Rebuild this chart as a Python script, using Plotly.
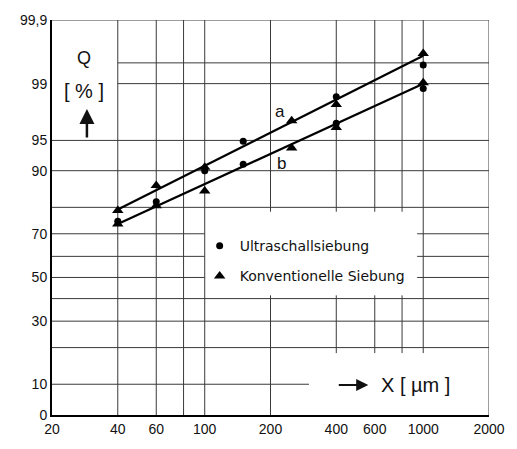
import plotly.graph_objects as go
from statistics import NormalDist

_nd = NormalDist()


def z(p):
    return _nd.inv_cdf(p / 100.0)


# ---------------- data ----------------
ultra_x = [40, 60, 100, 150, 150, 400, 400, 1000, 1000]
ultra_q = [75.0, 81.8, 90.0, 94.9, 91.3, 98.5, 96.8, 99.46, 98.83]

konv_x = [40, 40, 60, 60, 100, 100, 250, 250, 400, 400, 1000, 1000]
konv_q = [78.9, 73.9, 86.5, 80.5, 90.7, 85.0, 97.0, 94.0, 98.1, 96.4, 99.64, 99.03]

line_a_x = [40, 1000]
line_a_q = [79.3, 99.61]
line_b_x = [40, 1000]
line_b_q = [73.9, 99.0]

x_tick_vals = [20, 40, 60, 100, 200, 400, 600, 1000, 2000]
x_tick_text = ["20", "40", "60", "100", "200", "400", "600", "1000", "2000"]
y_tick_pct = [4.94, 10, 30, 50, 70, 90, 95, 99, 99.9]
y_tick_text = ["0", "10", "30", "50", "70", "90", "95", "99", "99,9"]

X_MIN, X_MAX = 20, 2000
Q_MIN, Q_MAX = 4.94, 99.9

# grid layout of the printed paper: (value, start, end)
v_grid = [
    (40, Q_MIN, Q_MAX), (60, Q_MIN, Q_MAX), (80, Q_MIN, Q_MAX), (100, Q_MIN, Q_MAX),
    (200, Q_MIN, 41.5), (200, 78.5, Q_MAX),
    (400, 18.2, 41.5), (400, 78.5, Q_MAX),
    (600, 18.2, 41.5), (600, 78.5, Q_MAX),
    (800, 18.2, 41.5), (800, 78.5, Q_MAX),
    (1000, 18.2, Q_MAX),
    (2000, Q_MIN, Q_MAX),
]
h_grid = [
    (99.9, X_MIN, X_MAX), (99.5, 40, X_MAX), (99, 40, X_MAX),
    (95, X_MIN, X_MAX), (90, X_MIN, X_MAX), (80, X_MIN, X_MAX),
    (70, X_MIN, 100), (70, 938, X_MAX),
    (60, X_MIN, 100), (60, 938, X_MAX),
    (50, X_MIN, 100), (50, 938, X_MAX),
    (40, X_MIN, X_MAX), (30, X_MIN, X_MAX), (20, X_MIN, X_MAX),
    (10, X_MIN, 300),
]

gx, gy = [], []
for v, a, b in v_grid:
    gx += [v, v, None]
    gy += [z(a), z(b), None]
for v, a, b in h_grid:
    gx += [a, b, None]
    gy += [z(v), z(v), None]

fig = go.Figure()
fig.add_trace(go.Scatter(x=gx, y=gy, mode="lines", line=dict(color="#3a3a3a", width=1),
                         hoverinfo="skip", showlegend=False))

for lx, lq in ((line_a_x, line_a_q), (line_b_x, line_b_q)):
    fig.add_trace(go.Scatter(x=lx, y=[z(q) for q in lq], mode="lines",
                             line=dict(color="black", width=2.2), showlegend=False))

fig.add_trace(go.Scatter(x=ultra_x, y=[z(q) for q in ultra_q], mode="markers",
                         name="Ultraschallsiebung", legendgroup="u",
                         marker=dict(symbol="circle", size=7, color="black")))
fig.add_trace(go.Scatter(x=konv_x, y=[z(q) for q in konv_q], mode="markers",
                         name="Konventionelle Siebung", legendgroup="k",
                         marker=dict(symbol="triangle-up", size=10, color="black")))

L, R, T, B = 52, 27, 18, 23
W, H = 517, 449
pw, ph = W - L - R, H - T - B


def px(xp):
    return (xp - L) / pw


def py(yp):
    return (H - B - yp) / ph


font_main = "Liberation Sans, Arial, sans-serif"
ann = [
    dict(text="Q", x=px(84), y=py(57), size=18),
    dict(text="[ % ]", x=px(84), y=py(91), size=20),
    dict(text="a", x=px(281), y=py(112), size=17),
    dict(text="b", x=px(282), y=py(166), size=17),
    dict(text="X [ µm ]", x=px(416), y=py(395), size=20),
]
annotations = []
for a in ann:
    annotations.append(dict(text=a["text"], x=a["x"], y=a["y"], xref="paper", yref="paper",
                            showarrow=False, xanchor="center", yanchor="middle",
                            font=dict(family=font_main, size=a["size"], color="#111")))
# arrows
annotations.append(dict(text="", x=px(87), y=py(110), xref="paper", yref="paper",
                        ax=0, ay=30, showarrow=True, arrowhead=2, arrowsize=1.2,
                        arrowwidth=2.5, arrowcolor="#111"))
annotations.append(dict(text="", x=px(369), y=py(395), xref="paper", yref="paper",
                        ax=-31, ay=0, showarrow=True, arrowhead=2, arrowsize=1.1,
                        arrowwidth=2.2, arrowcolor="#111"))

fig.update_layout(
    width=W, height=H,
    margin=dict(l=L, r=R, t=T, b=B),
    paper_bgcolor="white", plot_bgcolor="white",
    font=dict(family=font_main, size=14, color="#111"),
    showlegend=True,
    legend=dict(x=px(200), y=py(235), xanchor="left", yanchor="top",
                bgcolor="rgba(0,0,0,0)", tracegroupgap=9,
                font=dict(family="DejaVu Sans, sans-serif", size=14, color="#111")),
    annotations=annotations,
    xaxis=dict(type="log", range=[1.30103, 3.30103], tickvals=x_tick_vals, ticktext=x_tick_text,
               showgrid=False, zeroline=False, showline=True, linewidth=2, linecolor="black",
               ticks="", tickfont=dict(size=14)),
    yaxis=dict(range=[z(Q_MIN), z(Q_MAX)], tickvals=[z(p) for p in y_tick_pct], ticktext=y_tick_text,
               showgrid=False, zeroline=False, showline=True, linewidth=2, linecolor="black",
               ticks="", tickfont=dict(size=14)),
)

fig.write_html("out.html", config={"displayModeBar": False},
               post_script="document.body.style.margin='0';document.body.style.overflow='hidden';")
